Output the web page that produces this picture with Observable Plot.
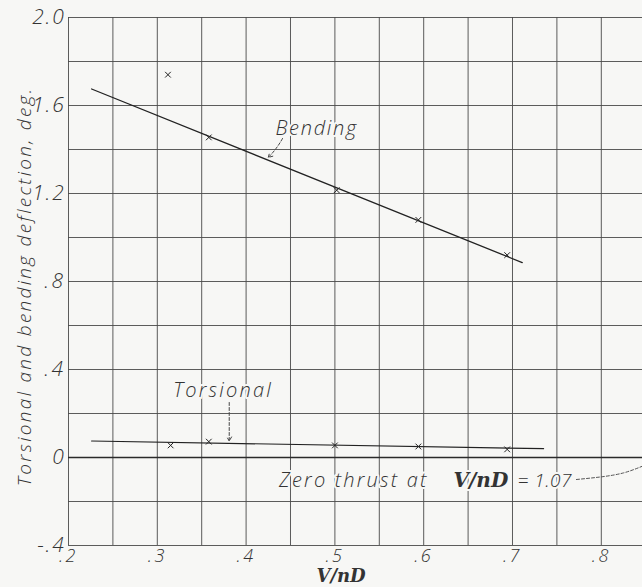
<!DOCTYPE html>
<html><head><meta charset="utf-8">
<script src="https://cdn.jsdelivr.net/npm/d3@7"></script>
<script src="https://cdn.jsdelivr.net/npm/@observablehq/plot@0.6"></script>
<style>
body{margin:0;background:#f7f7f5;}
#chart svg{background:transparent;}
</style></head><body><div id="chart"></div>
<script>
// Measured points (x markers)
const bendingX = [0.312, 0.358, 0.502, 0.594, 0.694];
const bendingY = [1.74, 1.455, 1.215, 1.08, 0.92];
const torsionalX = [0.315, 0.358, 0.5, 0.594, 0.694];
const torsionalY = [0.055, 0.072, 0.055, 0.05, 0.037];
// Faired lines
const bendingFitX = [0.226, 0.711];
const bendingFitY = [1.675, 0.886];
const torsionalFitX = [0.226, 0.735];
const torsionalFitY = [0.075, 0.04];
// Ticks
const xTicks = [0.2, 0.3, 0.4, 0.5, 0.6, 0.7, 0.8];
const xTickLabels = [".2", ".3", ".4", ".5", ".6", ".7", ".8"];
const yTicks = [-0.4, 0, 0.4, 0.8, 1.2, 1.6, 2.0];
const yTickLabels = ["-.4", "0", ".4", ".8", "1.2", "1.6", "2.0"];
const xGrid = [0.2, 0.25, 0.3, 0.35, 0.4, 0.45, 0.5, 0.55, 0.6, 0.65, 0.7, 0.75, 0.8];
const yGrid = [-0.4, -0.2, 0, 0.2, 0.4, 0.6, 0.8, 1.0, 1.2, 1.4, 1.6, 1.8, 2.0];
// Annotations
const bendingLabel = {text: "Bending", x: 0.433, y: 1.495};
const bendingArrow = {x1: 0.441, y1: 1.45, x2: 0.425, y2: 1.364};
const torsionalLabel = {text: "Torsional", x: 0.318, y: 0.305};
const torsionalArrow = {x1: 0.381, y1: 0.25, x2: 0.381, y2: 0.075};
const zeroText1 = {text: "Zero thrust at", x: 0.6055, y: -0.105};
const zeroText2 = {text: "V/nD", x: 0.6336, y: -0.105};
const zeroText3 = {text: "= 1.07", x: 0.7056, y: -0.105};
const zeroLeaderX = [0.772, 0.8, 0.825, 0.846];
const zeroLeaderY = [-0.1, -0.088, -0.07, -0.04];

const bending = bendingX.map((x, i) => ({x, y: bendingY[i]}));
const torsional = torsionalX.map((x, i) => ({x, y: torsionalY[i]}));
const bendingFit = bendingFitX.map((x, i) => ({x, y: bendingFitY[i]}));
const torsionalFit = torsionalFitX.map((x, i) => ({x, y: torsionalFitY[i]}));
const zeroLeader = zeroLeaderX.map((x, i) => ({x, y: zeroLeaderY[i]}));
const xLab = new Map(xTicks.map((t, i) => [t, xTickLabels[i]]));
const yLab = new Map(yTicks.map((t, i) => [t, yTickLabels[i]]));

const ink = "#333";
const gridInk = "#4a4a4a";
const bg = "#f7f7f5";
const font = "Open Sans, DejaVu Sans, sans-serif";
const serif = "DejaVu Serif, Liberation Serif, serif";
const lettering = {fontStyle: "italic", fontWeight: 300, fill: ink, fontFamily: font};

const chart = Plot.plot({
  width: 642,
  height: 587,
  marginLeft: 68,
  marginRight: 0,
  marginTop: 17,
  marginBottom: 42,
  style: {background: "transparent", color: ink, fontFamily: font},
  x: {domain: [0.2, 0.8464]},
  y: {domain: [-0.4, 2.0]},
  marks: [
    Plot.ruleX(xGrid, {stroke: gridInk, strokeWidth: 0.9}),
    Plot.ruleY(yGrid, {stroke: gridInk, strokeWidth: 0.9}),
    Plot.ruleY([0], {stroke: "#2a2a2a", strokeWidth: 1.3}),
    Plot.axisX(xTicks, {tickSize: 0, tickPadding: 4, tickFormat: d => xLab.get(d), fontSize: 18, ...lettering, label: null}),
    Plot.axisY(yTicks, {tickSize: 0, tickPadding: 3, tickFormat: d => yLab.get(d), fontSize: 21, ...lettering, label: null}),
    Plot.line(bendingFit, {x: "x", y: "y", stroke: "#222", strokeWidth: 1.3}),
    Plot.line(torsionalFit, {x: "x", y: "y", stroke: "#222", strokeWidth: 1.2}),
    Plot.dot(bending, {x: "x", y: "y", symbol: "times", r: 2.7, stroke: "#222", strokeWidth: 1}),
    Plot.dot(torsional, {x: "x", y: "y", symbol: "times", r: 2.7, stroke: "#222", strokeWidth: 1}),
    Plot.text([bendingLabel], {x: "x", y: "y", text: "text", textAnchor: "start", fontSize: 20, ...lettering, stroke: bg, strokeWidth: 4}),
    Plot.arrow([bendingArrow], {x1: "x1", y1: "y1", x2: "x2", y2: "y2", stroke: "#444", strokeWidth: 1, strokeDasharray: "3,2", headLength: 7, bend: 8}),
    Plot.text([torsionalLabel], {x: "x", y: "y", text: "text", textAnchor: "start", fontSize: 20, ...lettering, stroke: bg, strokeWidth: 4}),
    Plot.arrow([torsionalArrow], {x1: "x1", y1: "y1", x2: "x2", y2: "y2", stroke: "#444", strokeWidth: 1, strokeDasharray: "3,2", headLength: 7}),
    Plot.text([zeroText1], {x: "x", y: "y", text: "text", textAnchor: "end", fontSize: 20, ...lettering, stroke: bg, strokeWidth: 4}),
    Plot.text([zeroText2], {x: "x", y: "y", text: "text", textAnchor: "start", fontSize: 20, fontStyle: "italic", fontWeight: "bold", fill: ink, fontFamily: serif, stroke: bg, strokeWidth: 4}),
    Plot.text([zeroText3], {x: "x", y: "y", text: "text", textAnchor: "start", fontSize: 19, ...lettering, stroke: bg, strokeWidth: 4}),
    Plot.line(zeroLeader, {x: "x", y: "y", curve: "natural", stroke: "#555", strokeWidth: 1, strokeDasharray: "3,2"}),
    Plot.text(["V/nD"], {x: [0.507], frameAnchor: "bottom", lineAnchor: "middle", dy: 31, fontSize: 18, fontStyle: "italic", fontWeight: "bold", fontFamily: serif, fill: ink}),
    Plot.text(["Torsional and bending deflection, deg."], {frameAnchor: "left", textAnchor: "middle", rotate: -90, dx: -44, dy: 5, fontSize: 19, ...lettering})
  ]
});
document.getElementById("chart").appendChild(chart);

// lettering-guide spacing
const spacing = {
  "Torsional and bending deflection, deg.": 2.3,
  "Zero thrust at": 2.2,
  "Bending": 1.7,
  "Torsional": 2.2,
  "= 1.07": 0.5
};
d3.select(chart).selectAll("text").each(function() {
  const t = this.textContent;
  if (t in spacing) d3.select(this).attr("letter-spacing", spacing[t]);
  else if (xTickLabels.includes(t)) d3.select(this).attr("letter-spacing", 2.5);
  else if (yTickLabels.includes(t)) d3.select(this).attr("letter-spacing", 1.8);
});
</script>
</body></html>
